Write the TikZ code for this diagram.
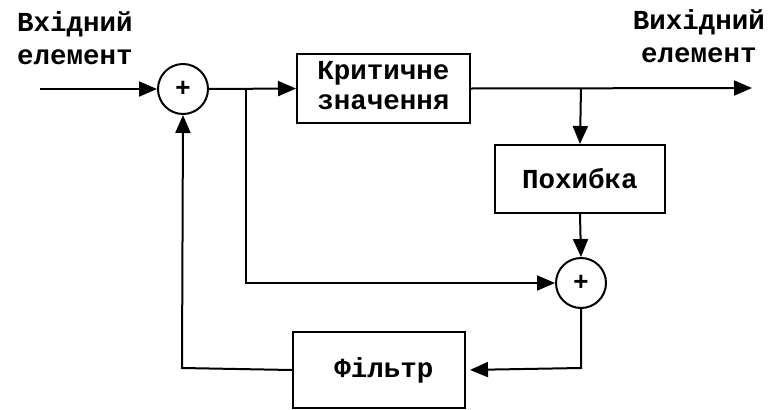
\documentclass[tikz,border=0pt]{standalone}
\usepackage{fontspec}
\setmainfont{Liberation Mono}
\newfontfamily\plusfont{Liberation Sans}
\usetikzlibrary{arrows.meta}
\begin{document}
\begin{tikzpicture}[x=1pt,y=-1pt,
  line width=2pt,
  every node/.style={font=\bfseries\fontsize{27.5}{30}\selectfont},
  blk/.style={draw,rectangle,inner sep=0pt},
  sumnode/.style={draw,circle,minimum size=50pt,inner sep=0pt,font=\plusfont\bfseries\fontsize{26}{26}\selectfont},
  arr/.style={-{Triangle[length=18pt,width=15pt]}},
  lbl/.style={inner sep=0pt,font=\bfseries\fontsize{27.5}{33}\selectfont}]
\useasboundingbox (0,0) rectangle (772,410);
\node[sumnode] (s1) at (183,89) {+};
\node[blk,minimum width=173pt,minimum height=69pt,align=center,font=\bfseries\fontsize{27.5}{30}\selectfont] (crit) at (383.5,88.5) {\raisebox{-3pt}{\begin{tabular}{@{}c@{}}Критичне\\значення\end{tabular}}};
\node[blk,minimum width=170pt,minimum height=68pt] (err) at (580,179) {Похибка};
\node[sumnode] (s2) at (581,283) {+};
\node[blk,minimum width=172pt,minimum height=76pt] (filt) at (379,370) {\hspace*{10pt}Фільтр};
\node[lbl,anchor=north west,align=left] (inlbl) at (16,11) {Вхідний\\елемент};
\node[lbl,anchor=north,align=center] (outlbl) at (699,9) {Вихідний\\елемент};
\coordinate (in) at (40,89);
\coordinate (out) at (752,88);
\coordinate (j1) at (246,89);
\coordinate (j2) at (581,88);
\coordinate (c1) at (246,283);
\coordinate (c2) at (581,368);
\coordinate (c3) at (182,368);
\draw[arr] (in) -- (s1.west);
\draw[arr] (s1.east) -- (crit.west);
\draw[arr] (crit.east) -- (out);
\draw[arr] (j2) -- (err.north);
\draw[arr] (err.south) -- (s2.north);
\draw[arr] (j1) -- (c1) -- (s2.west);
\draw[arr,shorten >=4pt] (s2.south) -- (c2) -- (filt.east);
\draw[arr] (filt.west) -- (c3) -- (s1.south);
\end{tikzpicture}
\end{document}
